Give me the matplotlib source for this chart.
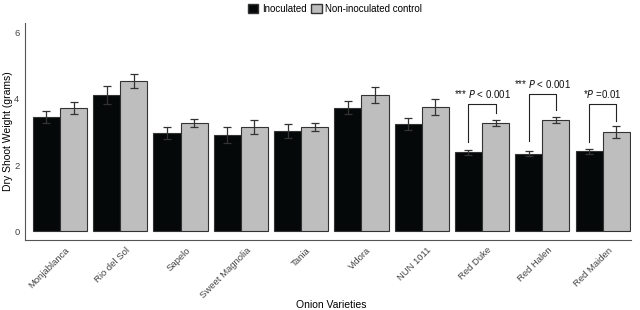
import matplotlib
matplotlib.use("Agg")
import matplotlib.pyplot as plt
import matplotlib.transforms as mtransforms
import numpy as np
from matplotlib.patches import Patch

plt.rcParams["font.family"] = ["Liberation Sans", "DejaVu Sans"]

varieties = ["Monjablanca", "Rio del Sol", "Sapelo", "Sweet Magnolia", "Tania",
             "Vidora", "NUN 1011", "Red Duke", "Red Halen", "Red Maiden"]
inoculated = [3.45, 4.12, 2.97, 2.91, 3.03, 3.73, 3.23, 2.39, 2.34, 2.41]
inoculated_err = [0.18, 0.27, 0.18, 0.24, 0.20, 0.20, 0.18, 0.08, 0.08, 0.09]
control = [3.72, 4.55, 3.28, 3.16, 3.16, 4.13, 3.76, 3.27, 3.36, 3.00]
control_err = [0.18, 0.21, 0.12, 0.21, 0.12, 0.24, 0.24, 0.09, 0.10, 0.17]

# significance brackets: (group index, left leg bottom, top, right leg bottom, label)
sig_idx = [7, 8, 9]
sig_left = [2.70, 2.73, 2.70]
sig_top = [3.85, 4.15, 3.85]
sig_right = [3.58, 3.67, 3.33]
sig_labels = ["*** $P$ < 0.001", "*** $P$ < 0.001", "*$P$ =0.01"]

x = np.arange(len(varieties))
w = 0.45

fig = plt.figure(figsize=(6.4, 3.1), dpi=100)
ax = fig.add_axes([25 / 640, 70 / 310, 606 / 640, 217 / 310])

err_kw = dict(ecolor="#333333", elinewidth=0.9, capsize=3, capthick=0.9)
ax.bar(x - w / 2, inoculated, w, yerr=inoculated_err, color="#050808",
       edgecolor="#333333", linewidth=0.8, error_kw=err_kw)
ax.bar(x + w / 2, control, w, yerr=control_err, color="#bebebe",
       edgecolor="#333333", linewidth=0.8, error_kw=err_kw)

for i, lo_l, top, lo_r, lab in zip(sig_idx, sig_left, sig_top, sig_right, sig_labels):
    xl, xr = i - w / 2, i + w / 2
    ax.plot([xl, xl, xr, xr], [lo_l, top, top, lo_r], color="#222222", lw=0.8)
    ax.text(i, top + 0.12, lab, ha="center", va="bottom", fontsize=7, color="#111111")

ax.set_xlim(-0.58, 9.47)
ax.set_ylim(-0.27, 6.3)
ax.set_yticks([0, 2, 4, 6])
ax.set_xticks(x)
ax.set_xticklabels(varieties, rotation=45, ha="right", rotation_mode="anchor")
ax.tick_params(axis="both", length=0, labelsize=6.8, labelcolor="#444444")
ax.tick_params(axis="y", pad=4)
ax.tick_params(axis="x", pad=4)
shift = mtransforms.ScaledTranslation(5 / 100, 0, fig.dpi_scale_trans)
for lbl in ax.get_xticklabels():
    lbl.set_transform(lbl.get_transform() + shift)

for s in ["top", "right"]:
    ax.spines[s].set_visible(False)
for s in ["left", "bottom"]:
    ax.spines[s].set_color("#555555")
    ax.spines[s].set_linewidth(0.8)

ax.set_ylabel("Dry Shoot Weight (grams)", fontsize=7.5, va="center")
ax.yaxis.set_label_coords(-0.028, 0.5)
ax.set_xlabel("Onion Varieties", fontsize=7.5, va="center")
ax.xaxis.set_label_coords(0.505, -0.30)

handles = [Patch(facecolor="#050808", edgecolor="#333333", label="Inoculated"),
           Patch(facecolor="#bebebe", edgecolor="#333333", label="Non-inoculated control")]
fig.legend(handles=handles, loc="upper center", bbox_to_anchor=(335 / 640, 1.015),
           ncol=2, frameon=False, fontsize=7, handlelength=1.1, handleheight=1.1,
           handletextpad=0.4, columnspacing=0.4)

fig.savefig("out.png", dpi=100)
